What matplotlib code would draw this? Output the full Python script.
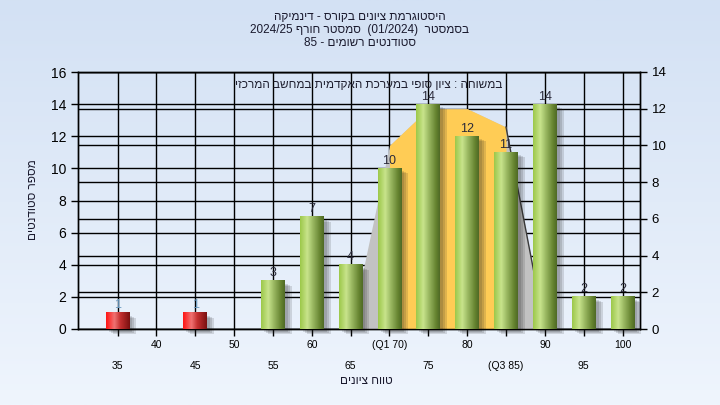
import re
import numpy as np
import matplotlib
matplotlib.use('Agg')
import matplotlib.pyplot as plt
import matplotlib.transforms as mtransforms
from matplotlib.patches import Rectangle
from matplotlib.colors import LinearSegmentedColormap

plt.rcParams['font.family'] = ['Liberation Sans', 'DejaVu Sans']

# ---------------- data ----------------
categories = ['35', '40', '45', '50', '55', '60', '65', '70', '75', '80', '85', '90', '95', '100']
tick_labels = ['35', '40', '45', '50', '55', '60', '65', '(Q1 70)', '75', '80', '(Q3 85)', '90', '95', '100']
counts = [1, 0, 1, 0, 3, 7, 4, 10, 14, 12, 11, 14, 2, 2]
bar_group = ['fail', 'fail', 'fail', 'fail', 'pass', 'pass', 'pass', 'pass', 'pass',
             'pass', 'pass', 'pass', 'pass', 'pass']
area_vals = [0, 0, 0, 0, 0, 0, 0, 10, 12, 12, 11, 0, 0, 0]   # right axis
q1_index, q3_index = 7, 10

title_lines = ['היסטוגרמת ציונים בקורס - דינמיקה',
               'בסמסטר  (01/2024)  סמסטר חורף 2024/25',
               'סטודנטים רשומים - 85']
note_text = 'במשוחה : ציון סופי במערכת האקדמית במחשב המרכזי'
x_title = 'טווח ציונים'
y_title = 'מספר סטודנטים'


def vis(s):
    """Convert logical RTL text to visual (left-to-right) order."""
    r = s[::-1]
    return re.sub(r'[0-9A-Za-z/()]+', lambda m: m.group(0)[::-1], r)


# ---------------- figure ----------------
W, H = 720, 405
fig = plt.figure(figsize=(W / 100, H / 100), dpi=100)

bg = fig.add_axes([0, 0, 1, 1], zorder=-10)
g = np.linspace(0, 1, 256)[:, None, None]
c_top = np.array([0xd3, 0xe1, 0xf4]) / 255
c_bot = np.array([0xef, 0xf5, 0xfd]) / 255
bg.imshow(c_top + (c_bot - c_top) * g, aspect='auto', extent=[0, 1, 0, 1])
bg.axis('off')

L, R, T, B = 78, 640, 72, 329
rect = [L / W, 1 - B / H, (R - L) / W, (B - T) / H]
ax = fig.add_axes(rect)
ax2 = ax.twinx()
ax.set_zorder(2)
ax2.set_zorder(1)
ax.patch.set_visible(False)
ax2.patch.set_facecolor('#b4b4b4')

x = np.arange(len(categories))
xmin, xmax = -1.02, 13.45
ax.set_xlim(xmin, xmax)
ax2.set_xlim(xmin, xmax)
ax.set_ylim(0, 16)
ax2.set_ylim(0, 14)

# grid lines (drawn in back axes, beneath the area)
ax2.vlines(x, 0, 14, color='black', lw=1.0, zorder=1)
ax2.hlines(np.arange(0, 15, 2), xmin, xmax, color='black', lw=1.0, zorder=1)
blend = mtransforms.blended_transform_factory(ax2.transAxes, ax.transData)
for v in range(0, 17, 2):
    ax2.plot([0, 1], [v, v], color='black', lw=1.0, transform=blend, zorder=1)

# area (right axis)
ax2.fill_between(x, area_vals, color='#c2c2c2', lw=0, zorder=3)
ax2.fill_between(x[q1_index:q3_index + 1], area_vals[q1_index:q3_index + 1],
                 color='#ffcc55', lw=0, zorder=4)
ax2.plot(x[q3_index:q3_index + 2], area_vals[q3_index:q3_index + 2],
         color='#3a3a3a', lw=1.0, zorder=5)

# bars with cylinder gradient + shadow
cmaps = {
    'pass': LinearSegmentedColormap.from_list('g', [(0, '#9cc84a'), (0.3, '#c8e48c'),
                                                    (0.55, '#98b660'), (0.85, '#64822f'),
                                                    (1.0, '#4f6a26')]),
    'fail': LinearSegmentedColormap.from_list('r', [(0, '#ff1414'), (0.35, '#f07272'),
                                                    (0.6, '#c43030'), (1.0, '#7a1010')]),
}
bw = 0.61
bars = ax.bar(x, counts, width=bw, color='none', lw=0, zorder=3)
grad = np.linspace(0, 1, 64)[None, :]
for xi, b, grp in zip(x, bars, bar_group):
    h = b.get_height()
    if h <= 0:
        continue
    x0 = b.get_x()
    for dx, dy in [(3, -3), (5, -4), (7, -5)]:
        off = mtransforms.ScaledTranslation(dx / 100, dy / 100, fig.dpi_scale_trans)
        ax.add_patch(Rectangle((x0, 0), bw, h, facecolor='#202020', alpha=0.14,
                               lw=0, transform=ax.transData + off, zorder=2.5,
                               clip_on=False))
    ax.imshow(grad, cmap=cmaps[grp], extent=[x0, x0 + bw, 0, h], aspect='auto',
              interpolation='bilinear', zorder=3)
ax.set_xlim(xmin, xmax)
ax.set_ylim(0, 16)

# value labels
for xi, v in zip(x, counts):
    if v > 0:
        col = '#6a9ac0' if v == 1 else '#2a2a3a'
        ax.text(xi, v + 0.1, str(v), ha='center', va='bottom', fontsize=9,
                color=col, zorder=2.8)

# ticks
ax.set_yticks(range(0, 17, 2))
ax2.set_yticks(range(0, 15, 2))
ax.tick_params(axis='y', labelsize=10, length=5, width=1, colors='black')
ax2.tick_params(axis='y', labelsize=9.5, length=5, width=1, colors='black')
ax.set_xticks(x[1::2])
ax.set_xticklabels(tick_labels[1::2])
ax.set_xticks(x[0::2], minor=True)
ax.set_xticklabels(tick_labels[0::2], minor=True)
ax.tick_params(axis='x', which='major', labelsize=7.5, length=5, width=1, pad=3)
ax.tick_params(axis='x', which='minor', labelsize=7.5, length=5, width=1, pad=18)
ax2.tick_params(axis='x', which='both', bottom=False, labelbottom=False)
for a in (ax, ax2):
    for s in a.spines.values():
        s.set_color('black')
        s.set_linewidth(1)

# texts
for i, line in enumerate(title_lines):
    fig.text(0.5, 1 - (17 + 13 * i) / H, vis(line), ha='center', va='center',
             fontsize=8.5, color='#1a1a2e')
ax.text((369 - L) / (R - L), 1 - (85 - T) / (B - T), vis(note_text),
        transform=ax.transAxes, ha='center', va='center', fontsize=8.5,
        color='#202030', zorder=6)
fig.text(366 / W, 1 - 381 / H, vis(x_title), ha='center', va='center',
         fontsize=8.5, color='#1a1a2e')
fig.text(33 / W, 1 - 200 / H, vis(y_title), ha='center', va='center',
         rotation=90, fontsize=8.5, color='#1a1a2e')

fig.savefig('out.png', dpi=100)
